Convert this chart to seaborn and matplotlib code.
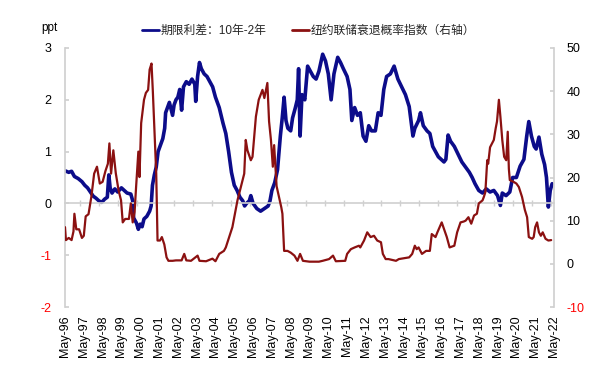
import matplotlib
matplotlib.use("Agg")
import matplotlib.pyplot as plt
import pandas as pd
import seaborn as sns

# ---------------- data ----------------
# x = years after May-1996
spread_t = [0.0, 0.2, 0.35, 0.5, 0.7, 0.9, 1.05, 1.2, 1.35, 1.5, 1.65, 1.8, 1.95,
            2.1, 2.25, 2.33, 2.4, 2.5, 2.65, 2.8, 3.0, 3.15, 3.3, 3.5, 3.6, 3.65,
            3.8, 3.9, 4.0, 4.1, 4.2, 4.35, 4.5, 4.58, 4.65, 4.75, 4.85, 4.95, 5.05,
            5.2, 5.3, 5.35, 5.45, 5.55, 5.65, 5.72, 5.8, 5.9, 6.0, 6.1, 6.2, 6.3,
            6.45, 6.6, 6.75, 6.9, 6.95, 7.05, 7.15, 7.25, 7.4, 7.55, 7.7, 7.85,
            8.0, 8.2, 8.4, 8.55, 8.7, 8.85, 9.0, 9.15, 9.3, 9.45, 9.55, 9.65, 9.8,
            9.88, 10.0, 10.2, 10.4, 10.6, 10.8, 10.9, 11.0, 11.15, 11.3, 11.45,
            11.55, 11.65, 11.75, 11.85, 12.0, 12.1, 12.25, 12.35, 12.42, 12.5,
            12.6, 12.75, 12.9, 13.05, 13.2, 13.35, 13.5, 13.7, 13.85, 14.0, 14.15,
            14.3, 14.5, 14.65, 14.8, 15.0, 15.15, 15.25, 15.4, 15.55, 15.7, 15.85,
            16.0, 16.15, 16.3, 16.5, 16.65, 16.8, 16.95, 17.1, 17.3, 17.5, 17.7,
            17.9, 18.1, 18.3, 18.5, 18.6, 18.8, 18.9, 19.05, 19.25, 19.4, 19.55,
            19.7, 19.85, 20.0, 20.15, 20.25, 20.37, 20.5, 20.7, 20.9, 21.1, 21.3,
            21.5, 21.65, 21.8, 22.0, 22.2, 22.4, 22.6, 22.8, 23.0, 23.15, 23.25,
            23.45, 23.65, 23.8, 24.0, 24.2, 24.4, 24.55, 24.66, 24.8, 24.95, 25.05,
            25.2, 25.35, 25.5, 25.6, 25.7, 25.8, 25.9]
spread_v = [0.63, 0.6, 0.62, 0.52, 0.48, 0.42, 0.35, 0.3, 0.22, 0.14, 0.1, 0.05, 0.02,
            0.08, 0.12, 0.55, 0.3, 0.2, 0.28, 0.22, 0.3, 0.25, 0.2, 0.18, 0.05, -0.28,
            -0.38, -0.5, -0.4, -0.45, -0.3, -0.25, -0.15, -0.05, 0.35, 0.55, 0.7, 1.0, 1.1,
            1.25, 1.45, 1.75, 1.85, 1.95, 1.8, 1.7, 1.9, 2.0, 2.05, 2.2, 1.8, 2.25,
            2.35, 2.3, 2.4, 2.3, 1.97, 2.45, 2.72, 2.6, 2.5, 2.45, 2.35, 2.25,
            2.05, 1.85, 1.55, 1.35, 1.0, 0.6, 0.35, 0.25, 0.12, 0.05, -0.05, 0.0, 0.05,
            0.15, 0.0, -0.1, -0.15, -0.1, -0.05, 0.05, 0.25, 0.4, 0.65, 1.3,
            1.65, 2.05, 1.6, 1.45, 1.4, 1.65, 1.85, 2.0, 2.6, 1.3,
            2.1, 2.0, 2.65, 2.55, 2.45, 2.4, 2.55, 2.88, 2.75, 2.5, 2.0,
            2.5, 2.82, 2.72, 2.6, 2.45, 2.2, 1.6, 1.85, 1.7, 1.75, 1.3,
            1.2, 1.5, 1.4, 1.4, 1.75, 1.7, 2.2, 2.45, 2.5, 2.65, 2.4,
            2.25, 2.1, 1.87, 1.3, 1.45, 1.6, 1.75, 1.5, 1.4, 1.35, 1.1,
            1.0, 0.9, 0.85, 0.8, 0.85, 1.32, 1.2, 1.1, 0.95, 0.8, 0.7,
            0.6, 0.5, 0.38, 0.25, 0.2, 0.28, 0.22, 0.25, 0.15, -0.04, 0.2,
            0.15, 0.22, 0.5, 0.5, 0.72, 0.85, 1.3, 1.58, 1.3, 1.1, 1.05,
            1.28, 0.95, 0.75, 0.5, -0.07, 0.25, 0.38]

prob_t = [0.0, 0.05, 0.2, 0.35, 0.45, 0.5, 0.6, 0.75, 0.9, 1.0, 1.1, 1.25, 1.4, 1.55,
          1.7, 1.85, 2.0, 2.15, 2.28, 2.36, 2.45, 2.57, 2.7, 2.85, 2.98, 3.07, 3.2,
          3.4, 3.5, 3.6, 3.7, 3.78, 3.9, 3.96, 4.05, 4.2, 4.3, 4.42, 4.5, 4.6, 4.67,
          4.78, 4.85, 4.92, 5.05, 5.15, 5.28, 5.4, 5.5, 5.72, 5.9, 6.2, 6.34, 6.45,
          6.7, 7.05, 7.15, 7.5, 7.84, 8.0, 8.2, 8.45, 8.55, 8.7, 8.9, 9.05, 9.17,
          9.35, 9.53, 9.61, 9.7, 9.88, 9.97, 10.15, 10.3, 10.5, 10.6, 10.76, 10.85,
          10.95, 11.05, 11.12, 11.25, 11.4, 11.5, 11.56, 11.65, 11.83, 12.0, 12.2,
          12.36, 12.5, 12.65, 13.0, 13.5, 13.7, 14.04, 14.25, 14.4, 14.9, 15.0, 15.2,
          15.4, 15.63, 15.7, 15.9, 16.07, 16.25, 16.43, 16.6, 16.8, 16.9, 17.05,
          17.2, 17.6, 17.75, 18.3, 18.46, 18.6, 18.7, 18.8, 18.98, 19.2, 19.4, 19.5,
          19.7, 19.8, 20.03, 20.15, 20.3, 20.45, 20.7, 20.85, 21.03, 21.2, 21.3,
          21.45, 21.6, 21.75, 21.9, 22.0, 22.2, 22.27, 22.35, 22.45, 22.5, 22.6,
          22.8, 22.9, 22.97, 23.07, 23.15, 23.25, 23.35, 23.46, 23.54, 23.6, 23.65,
          23.85, 24.0, 24.13, 24.3, 24.45, 24.57, 24.66, 24.84, 24.92, 25.0, 25.1,
          25.2, 25.3, 25.4, 25.55, 25.7, 25.85]
prob_v = [8.5, 5.5, 6.0, 5.5, 7.5, 11.6, 8.0, 8.0, 6.0, 6.5, 11.0, 11.5, 15.5, 20.9,
          22.5, 18.6, 19.0, 21.5, 23.2, 27.9, 20.9, 26.3, 21.0, 17.0, 14.7, 9.6, 10.4,
          10.4, 14.0, 9.6, 12.0, 17.8, 26.0, 20.1, 32.6, 38.0, 39.6, 40.3, 45.0, 46.4, 40.0,
          28.0, 21.0, 5.4, 5.4, 6.2, 4.5, 1.5, 0.7, 0.7, 0.8, 0.8, 2.3, 0.8,
          0.7, 1.9, 0.7, 0.6, 1.2, 0.6, 2.3, 3.0, 3.8, 5.8, 8.5, 12.0, 14.7,
          17.8, 20.9, 28.7, 26.3, 24.0, 24.8, 34.1, 38.0, 40.3, 38.4, 41.9, 33.0,
          28.7, 22.5, 27.5, 18.0, 15.0, 13.1, 11.6, 3.0, 3.0, 2.6, 1.9,
          0.7, 2.3, 0.7, 0.5, 0.5, 0.7, 1.1, 1.9, 0.6, 0.7, 2.3, 3.4,
          3.8, 4.2, 3.8, 5.4, 7.3, 6.2, 6.5, 5.4, 5.0, 2.3, 1.1,
          1.1, 0.7, 1.1, 1.5, 2.3, 4.2, 3.4, 3.8, 2.3, 3.0, 3.0, 6.9,
          6.2, 7.3, 9.6, 8.1, 6.2, 3.8, 4.2, 7.3, 9.6, 9.8, 10.0,
          10.8, 9.3, 11.2, 11.6, 14.0, 14.7, 15.5, 16.6, 24.0, 23.2, 27.0,
          28.7, 31.4, 33.0, 38.0, 34.1, 28.7, 24.8, 24.0, 30.6, 22.0, 19.4,
          19.0, 18.6, 17.8, 15.5, 12.5, 10.8, 6.2, 5.8, 6.2, 8.5, 9.6,
          7.3, 6.5, 7.3, 5.8, 5.4, 5.5]

x_labels = ["May-96", "May-97", "May-98", "May-99", "May-00", "May-01", "May-02",
            "May-03", "May-04", "May-05", "May-06", "May-07", "May-08", "May-09",
            "May-10", "May-11", "May-12", "May-13", "May-14", "May-15", "May-16",
            "May-17", "May-18", "May-19", "May-20", "May-21", "May-22"]
left_ticks = [-2, -1, 0, 1, 2, 3]
right_ticks = [-10, 0, 10, 20, 30, 40, 50]
name_spread = "期限利差：10年-2年"
name_prob = "纽约联储衰退概率指数（右轴）"

# ---------------- style ----------------
BLUE = "#0c0c8a"
RED = "#8b1111"
GRAY = "#d0d0d0"
sns.set_theme(style="white")
plt.rcParams['font.family'] = ['Liberation Sans', 'Noto Sans CJK SC', 'DejaVu Sans']

W, H = 602, 365
fig = plt.figure(figsize=(W / 100, H / 100), dpi=100)
L, R, T, B = 65, 554, 48, 307
ax = fig.add_axes([L / W, 1 - B / H, (R - L) / W, (B - T) / H])
ax2 = ax.twinx()

df_s = pd.DataFrame({"t": spread_t, "v": spread_v})
df_p = pd.DataFrame({"t": prob_t, "v": prob_v})
sns.lineplot(data=df_s, x="t", y="v", ax=ax, color=BLUE, linewidth=2.6, legend=False)
sns.lineplot(data=df_p, x="t", y="v", ax=ax2, color=RED, linewidth=1.6, legend=False)

n_years = len(x_labels) - 1
ax.set_xlim(0, n_years)
ax.set_ylim(left_ticks[0], left_ticks[-1])
ax2.set_ylim(right_ticks[0], right_ticks[-1])
for a in (ax, ax2):
    a.set_xlabel("")
    a.set_ylabel("")

# spines
ax.spines["top"].set_visible(False)
ax.spines["right"].set_visible(False)
ax.spines["left"].set_color(GRAY)
ax.spines["bottom"].set_position(("data", 0))
ax.spines["bottom"].set_color(GRAY)
ax.spines["bottom"].set_linewidth(1.2)
for s in ("top", "left", "bottom"):
    ax2.spines[s].set_visible(False)
ax2.spines["right"].set_color(GRAY)

# zero-line ticks (no labels)
ax.set_xticks([k + 0.82 for k in range(n_years)])
ax.tick_params(axis="x", bottom=True, direction="inout", length=4, color=GRAY,
               width=1, labelbottom=False)

# bottom labels
sec = ax.secondary_xaxis("bottom")
sec.set_xticks(range(len(x_labels)), labels=x_labels, rotation=90)
sec.tick_params(length=0, pad=6, labelsize=9, labelcolor="black")
sec.spines["bottom"].set_visible(False)

# y ticks
ax.set_yticks(left_ticks)
ax.set_yticklabels([str(v) for v in left_ticks])
ax.tick_params(axis="y", left=True, direction="in", length=3, color=GRAY,
               pad=10, labelsize=9, labelcolor="black")
for lab, v in zip(ax.get_yticklabels(), left_ticks):
    lab.set_color("red" if v < 0 else "black")

ax2.set_yticks(right_ticks)
ax2.set_yticklabels([str(v) for v in right_ticks])
ax2.tick_params(axis="y", right=True, direction="in", length=3, color=GRAY,
                pad=9, labelsize=9, labelcolor="black")
for lab, v in zip(ax2.get_yticklabels(), right_ticks):
    lab.set_color("red" if v < 0 else "black")

# legend + unit
h1 = plt.Line2D([], [], color=BLUE, linewidth=2.0)
h2 = plt.Line2D([], [], color=RED, linewidth=2.0)
fig.legend([h1, h2], [name_spread, name_prob], loc="center",
           bbox_to_anchor=(0.513, 1 - 31 / H), ncol=2, frameon=False,
           fontsize=8.5, handlelength=1.4, handletextpad=0.15, columnspacing=2.2)
fig.text(41 / W, 1 - 28 / H, "ppt", fontsize=8.5, va="center", ha="left", color="black")

fig.savefig("out.png", dpi=100)
